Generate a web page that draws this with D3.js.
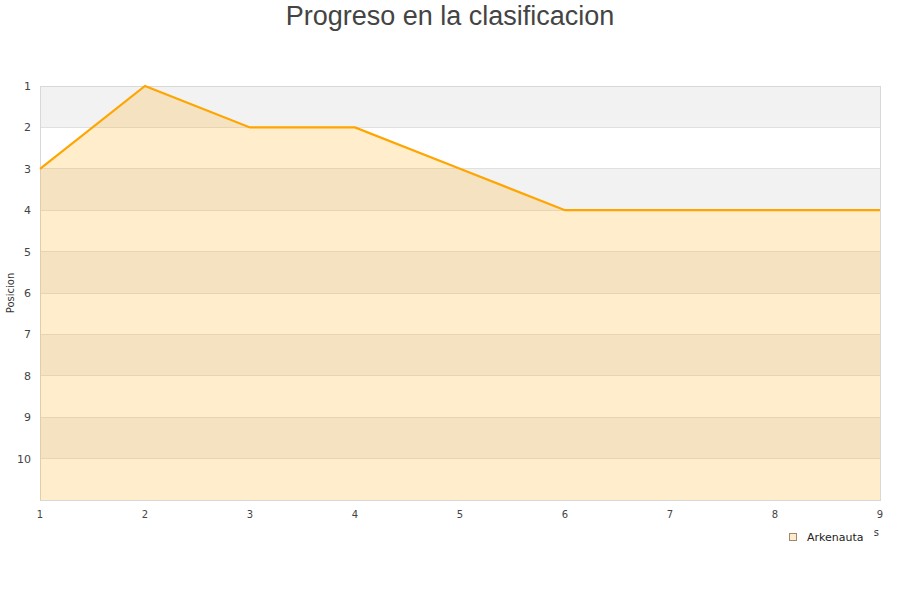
<!DOCTYPE html>
<html><head><meta charset="utf-8">
<script src="https://cdn.jsdelivr.net/npm/d3@7"></script>
<style>body{margin:0;background:#fff}svg{display:block}</style>
</head><body>
<svg id="c" width="900" height="600"></svg>
<script>
const title = "Progreso en la clasificacion";
const seriesName = "Arkenauta";
const jornadas = [1, 2, 3, 4, 5, 6, 7, 8, 9];
const posiciones = [3, 1, 2, 2, 3, 4, 4, 4, 4];
const yTicks = [1, 2, 3, 4, 5, 6, 7, 8, 9, 10];
const yTitle = "Posicion";
const xTitle = "Jornadas";

const svg = d3.select("#c");
const L = 40, R = 880, T = 86, B = 500;
const x = d3.scaleLinear().domain([1, 9]).range([L, R]);
const y = d3.scaleLinear().domain([1, 11]).range([T, B]);

// bands
const bands = d3.range(1, 11);
svg.append("g").selectAll("rect").data(bands).join("rect")
  .attr("x", L).attr("width", R - L)
  .attr("y", d => y(d)).attr("height", d => y(d + 1) - y(d))
  .attr("fill", d => d % 2 === 1 ? "#f2f2f2" : "#ffffff");
svg.append("g").selectAll("line").data(d3.range(2, 11)).join("line")
  .attr("x1", L).attr("x2", R).attr("y1", d => y(d)).attr("y2", d => y(d))
  .attr("stroke", "#e0e0e0").attr("stroke-width", 1).attr("shape-rendering", "crispEdges");

// frame
svg.append("rect").attr("x", L).attr("y", T).attr("width", R - L).attr("height", B - T)
  .attr("fill", "none").attr("stroke", "#d8d8d8").attr("shape-rendering", "crispEdges");

const data = jornadas.map((j, i) => ({ j, p: posiciones[i] }));
svg.append("path").datum(data)
  .attr("d", d3.area().x(d => x(d.j)).y0(y(11)).y1(d => y(d.p)))
  .attr("fill", "#FFA500").attr("fill-opacity", 0.2);
svg.append("path").datum(data)
  .attr("d", d3.line().x(d => x(d.j)).y(d => y(d.p)))
  .attr("fill", "none").attr("stroke", "#FFA500").attr("stroke-width", 2.2);

// y axis labels
svg.append("g").selectAll("text").data(yTicks).join("text")
  .attr("x", 31).attr("y", d => y(d) + 4).attr("text-anchor", "end")
  .attr("font-family", "DejaVu Sans, sans-serif").attr("font-size", 11).attr("fill", "#444")
  .text(d => d);
// x axis labels
svg.append("g").selectAll("text").data(jornadas).join("text")
  .attr("x", d => x(d)).attr("y", 518).attr("text-anchor", "middle")
  .attr("font-family", "DejaVu Sans, sans-serif").attr("font-size", 10).attr("fill", "#444")
  .text(d => d);

// axis titles
svg.append("text").attr("transform", "translate(14,293) rotate(-90)")
  .attr("text-anchor", "middle").attr("font-family", "DejaVu Sans, sans-serif")
  .attr("font-size", 10).attr("fill", "#333").text(yTitle);
svg.append("text").attr("x", 879).attr("y", 536).attr("text-anchor", "end")
  .attr("font-family", "DejaVu Sans, sans-serif").attr("font-size", 10).attr("fill", "#333").text(xTitle);

// legend (covers x title partially)
const lg = svg.append("g");
lg.append("rect").attr("x", 770).attr("y", 528).attr("width", 104).attr("height", 22).attr("fill", "#fff");
lg.append("rect").attr("x", 789.5).attr("y", 533.5).attr("width", 7).attr("height", 7)
  .attr("fill", "#FFEBCB").attr("stroke", "#9a8a70").attr("stroke-width", 1);
lg.append("text").attr("x", 807).attr("y", 541).attr("font-family", "DejaVu Sans, sans-serif")
  .attr("font-size", 11).attr("fill", "#222").text(seriesName);

// title
svg.append("text").attr("x", 450).attr("y", 25).attr("text-anchor", "middle")
  .attr("font-family", "Liberation Sans, Arial, sans-serif").attr("font-size", 27).attr("fill", "#444")
  .text(title);
</script>
</body></html>
